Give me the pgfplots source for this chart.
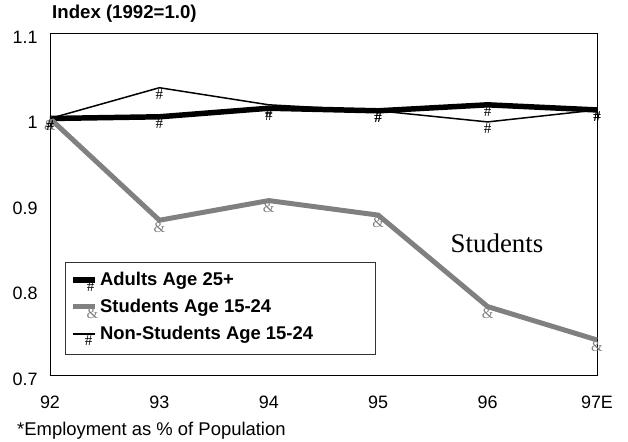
\documentclass[border=0pt]{standalone}
\usepackage{pgfplots}
\pgfplotsset{compat=1.18}
\usepackage{fontspec}
\setmainfont{Liberation Sans}
\newfontfamily\seriffont{Liberation Serif}
\definecolor{stgray}{RGB}{128,128,128}
\begin{document}
\begin{tikzpicture}
\useasboundingbox (0,0) rectangle (628bp,442bp);
\begin{axis}[
  at={(50bp,67bp)}, anchor=south west,
  scale only axis, width=547bp, height=342bp,
  xmin=92, xmax=97, ymin=0.7, ymax=1.1,
  xtick={92,93,94,95,96,97},
  xticklabels={92,93,94,95,96,97E},
  ytick={0.7,0.8,0.9,1.0,1.1},
  yticklabels={0.7,0.8,0.9,1,1.1},
  major tick length=0pt,
  axis line style={line width=0.8pt},
  tick label style={font=\fontsize{18}{20}\selectfont},
  xticklabel style={yshift=-17bp},
  yticklabel style={xshift=-9bp, yshift=-4bp},
  clip=false,
  text mark as node=true,
  legend cell align=left,
  legend style={at={(0.0274,0.330)}, anchor=north west, draw=black!80, line width=0.6pt,
    font=\bfseries\fontsize{18.5}{20}\selectfont, row sep=5bp, inner xsep=5bp, inner ysep=8bp},
  legend image code/.code={\draw[mark repeat=2,mark phase=2,#1] plot coordinates {(0bp,0bp) (11bp,0bp) (22bp,0bp)};},
]
\addplot[black, line width=5.5pt, mark=text, text mark={\#},
  text mark style={font=\seriffont\fontsize{15}{15}\selectfont, yshift=-7bp, inner sep=0pt}]
  coordinates {(92,1.0) (93,1.002) (94,1.012) (95,1.009) (96,1.016) (97,1.010)};
\addlegendentry{\makebox[268bp][l]{Adults Age 25+}}
\addplot[stgray, line width=5pt, mark=text, text mark={\&},
  text mark style={font=\seriffont\fontsize{15}{15}\selectfont, yshift=-7bp, inner sep=0pt}]
  coordinates {(92,1.0) (93,0.881) (94,0.904) (95,0.887) (96,0.780) (97,0.741)};
\addlegendentry{Students Age 15-24}
\addplot[black, line width=1.5pt, mark=text, text mark={\#},
  text mark style={font=\seriffont\fontsize{15}{15}\selectfont, yshift=-7bp, inner sep=0pt}]
  coordinates {(92,1.0) (93,1.036) (94,1.016) (95,1.009) (96,0.996) (97,1.010)};
\addlegendentry{Non-Students Age 15-24}
\node[font=\seriffont\fontsize{27}{29}\selectfont] at (axis cs:96.086,0.8544) {Students};
\end{axis}
\node[anchor=west, font=\bfseries\fontsize{18.7}{20}\selectfont, inner sep=0pt] at (52bp,428bp) {Index (1992=1.0)};
\node[anchor=west, font=\fontsize{18.5}{20}\selectfont, inner sep=0pt] at (17bp,11bp) {*Employment as \% of Population};
\end{tikzpicture}
\end{document}
